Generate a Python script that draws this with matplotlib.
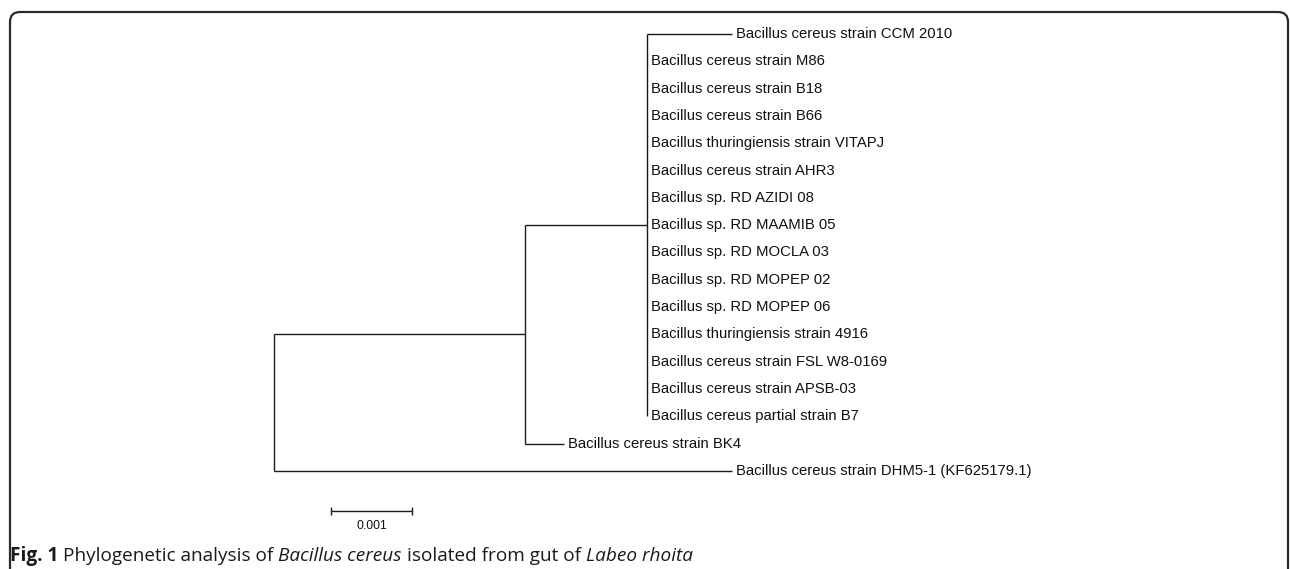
import matplotlib
matplotlib.use("Agg")
import matplotlib.pyplot as plt
from matplotlib.patches import FancyBboxPatch

# tip names of the large Bacillus clade, top to bottom
clade_taxa = [
    "Bacillus cereus strain CCM 2010",
    "Bacillus cereus strain M86",
    "Bacillus cereus strain B18",
    "Bacillus cereus strain B66",
    "Bacillus thuringiensis strain VITAPJ",
    "Bacillus cereus strain AHR3",
    "Bacillus sp. RD AZIDI 08",
    "Bacillus sp. RD MAAMIB 05",
    "Bacillus sp. RD MOCLA 03",
    "Bacillus sp. RD MOPEP 02",
    "Bacillus sp. RD MOPEP 06",
    "Bacillus thuringiensis strain 4916",
    "Bacillus cereus strain FSL W8-0169",
    "Bacillus cereus strain APSB-03",
    "Bacillus cereus partial strain B7",
]
# terminal branch lengths (substitutions per site)
clade_lengths = [0.00105, 0, 0, 0, 0, 0, 0, 0, 0, 0, 0, 0, 0, 0, 0]

sister_taxon = "Bacillus cereus strain BK4"
sister_length = 0.00048
outgroup_taxon = "Bacillus cereus strain DHM5-1 (KF625179.1)"
outgroup_length = 0.00565

# internal branches
root_to_inner = 0.0031
inner_to_clade = 0.0015

scale_length = 0.001
scale_label = "0.001"

W, H, DPI = 1290, 569, 100
fig = plt.figure(figsize=(W / DPI, H / DPI), dpi=DPI)

# pixel-unit overlay for the frame and caption
frame_ax = fig.add_axes([0, 0, 1, 1])
frame_ax.set_xlim(0, W)
frame_ax.set_ylim(H, 0)
frame_ax.axis("off")

# tree axes: x in branch-length units, y in tip rows
ax = fig.add_axes([0, 0, 1, 1])
ax.axis("off")
ax.patch.set_alpha(0)
px_per_unit = 81000.0
ax.set_xlim(-274 / px_per_unit, (W - 274) / px_per_unit)
row_px = 27.31
ax.set_ylim((H - 34) / row_px, -34 / row_px)

lc = "#1a1a1a"
lw = 1.0
label_font = dict(family="Liberation Sans", fontsize=10.7, color="#111111")
pad = 4 / px_per_unit

# node positions
x_inner = root_to_inner
x_clade = root_to_inner + inner_to_clade
n = len(clade_taxa)
y_clade = (n - 1) / 2
y_sister = n
y_outgroup = n + 1
y_inner = (y_clade + y_sister) / 2
y_root = (y_inner + y_outgroup) / 2

# clade tips
ax.vlines(x_clade, 0, n - 1, color=lc, lw=lw)
for i, (name, bl) in enumerate(zip(clade_taxa, clade_lengths)):
    if bl > 0:
        ax.hlines(i, x_clade, x_clade + bl, color=lc, lw=lw)
    ax.text(x_clade + bl + pad, i, name, va="center", ha="left", **label_font)

# inner node: clade + BK4
ax.vlines(x_inner, y_clade, y_sister, color=lc, lw=lw)
ax.hlines(y_clade, x_inner, x_clade, color=lc, lw=lw)
ax.hlines(y_sister, x_inner, x_inner + sister_length, color=lc, lw=lw)
ax.text(x_inner + sister_length + pad, y_sister, sister_taxon,
        va="center", ha="left", **label_font)

# root: inner node + outgroup
ax.vlines(0, y_inner, y_outgroup, color=lc, lw=lw)
ax.hlines(y_inner, 0, x_inner, color=lc, lw=lw)
ax.hlines(y_outgroup, 0, outgroup_length, color=lc, lw=lw)
ax.text(outgroup_length + pad, y_outgroup, outgroup_taxon,
        va="center", ha="left", **label_font)

# scale bar
sx0 = 57 / px_per_unit
sy = (511 - 34) / row_px
ax.hlines(sy, sx0, sx0 + scale_length, color=lc, lw=lw)
ax.vlines([sx0, sx0 + scale_length], sy - 0.15, sy + 0.15, color=lc, lw=lw)
ax.text(sx0 + scale_length / 2, sy + 0.55, scale_label, ha="center", va="center",
        family="Liberation Sans", fontsize=8.8, color="#111111")

# rounded frame, open at the bottom
frame = FancyBboxPatch((10, 12), 1278, 700, boxstyle="round,pad=0,rounding_size=10",
                       fill=False, ec="#2a2a2a", lw=1.6, clip_on=False)
frame_ax.add_patch(frame)

# caption with bold and italic runs
renderer = fig.canvas.get_renderer()
cap_font = dict(family="Open Sans", fontsize=13.7, color="#1a1a1a", va="baseline")
runs = [
    ("Fig. 1", "bold", "normal"),
    ("Phylogenetic analysis of", "normal", "normal"),
    ("Bacillus cereus", "normal", "italic"),
    ("isolated from gut of", "normal", "normal"),
    ("Labeo rhoita", "normal", "italic"),
]
probe = frame_ax.text(0, 0, "x x", **cap_font)
w2 = probe.get_window_extent(renderer).width
probe.set_text("xx")
space = w2 - probe.get_window_extent(renderer).width
probe.remove()

x = 10
for txt, weight, style in runs:
    t = frame_ax.text(x, 561, txt, fontweight=weight, fontstyle=style, **cap_font)
    x += t.get_window_extent(renderer).width + space

fig.savefig("out.png", dpi=DPI)
